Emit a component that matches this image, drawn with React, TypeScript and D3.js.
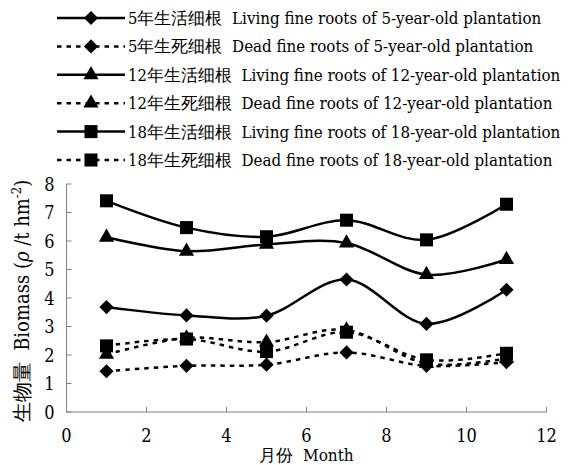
import * as d3 from "d3";

const months = [1, 3, 5, 7, 9, 11];
const live5 = [3.68, 3.39, 3.38, 4.65, 3.09, 4.29];
const dead5 = [1.43, 1.62, 1.66, 2.09, 1.62, 1.75];
const live12 = [6.13, 5.64, 5.88, 5.93, 4.82, 5.35];
const dead12 = [2.02, 2.6, 2.45, 2.88, 1.7, 1.88];
const live18 = [7.41, 6.47, 6.15, 6.73, 6.04, 7.29];
const dead18 = [2.32, 2.56, 2.12, 2.8, 1.83, 2.06];

const xTicks = [0, 2, 4, 6, 8, 10, 12];
const yTicks = [0, 1, 2, 3, 4, 5, 6, 7, 8];

const seriesList = [
  { cn: "5年生活细根", en: "Living fine roots of 5-year-old plantation", values: live5, marker: "diamond", dashed: false },
  { cn: "5年生死细根", en: "Dead fine roots of 5-year-old plantation", values: dead5, marker: "diamond", dashed: true },
  { cn: "12年生活细根", en: "Living fine roots of 12-year-old plantation", values: live12, marker: "triangle", dashed: false },
  { cn: "12年生死细根", en: "Dead fine roots of 12-year-old plantation", values: dead12, marker: "triangle", dashed: true },
  { cn: "18年生活细根", en: "Living fine roots of 18-year-old plantation", values: live18, marker: "square", dashed: false },
  { cn: "18年生死细根", en: "Dead fine roots of 18-year-old plantation", values: dead18, marker: "square", dashed: true },
];

const font = "'DejaVu Serif', serif";

function markerPath(kind: string) {
  if (kind === "diamond") return d3.symbol(d3.symbolSquare, 100)()!;
  if (kind === "triangle") return d3.symbol(d3.symbolTriangle, 100)()!;
  return d3.symbol(d3.symbolSquare, 170)()!;
}

function Marker({ kind, x, y }: { kind: string; x: number; y: number }) {
  const rot = kind === "diamond" ? " rotate(45)" : "";
  return <path d={markerPath(kind)} transform={`translate(${x},${y})${rot}`} fill="#000" />;
}

export default function App() {
  const width = 580;
  const height = 465;
  const x = d3.scaleLinear().domain([0, 12]).range([66.5, 546.5]);
  const y = d3.scaleLinear().domain([0, 8]).range([412, 184]);
  const line = d3
    .line<number>()
    .x((_, i) => x(months[i]))
    .y((v) => y(v))
    .curve(d3.curveCardinal.tension(0));

  const legendY = d3.scalePoint<number>().domain(d3.range(6)).range([18, 160]);

  return (
    <svg
      width={width}
      height={height}
      style={{ position: "absolute", left: 0, top: 0, background: "#fff", fontFamily: font, fontStretch: "condensed" }}
    >
      {/* axes */}
      <line x1={x(0)} x2={x(12)} y1={y(0)} y2={y(0)} stroke="#808080" strokeWidth={1} />
      <line x1={x(0)} x2={x(0)} y1={y(0)} y2={y(8)} stroke="#808080" strokeWidth={1} />
      {xTicks.map((t) => (
        <g key={`x${t}`}>
          <line x1={x(t)} x2={x(t)} y1={y(0)} y2={y(0) - 5} stroke="#808080" />
          <text x={x(t)} y={y(0) + 30} textAnchor="middle" fontSize={18}>{t}</text>
        </g>
      ))}
      {yTicks.map((t) => (
        <g key={`y${t}`}>
          <line x1={x(0)} x2={x(0) + 5} y1={y(t)} y2={y(t)} stroke="#808080" />
          <text x={x(0) - 12} y={y(t) + 6.5} textAnchor="end" fontSize={18}>{t}</text>
        </g>
      ))}
      <text x={x(6)} y={461} textAnchor="middle" fontSize={17} xmlSpace="preserve">月份  Month</text>
      <text transform={`translate(29,301) rotate(-90)`} textAnchor="middle" fontSize={20} xmlSpace="preserve">
        生物量  Biomass (<tspan fontStyle="italic">ρ</tspan> /t hm<tspan fontSize={13} dy={-8}>-2</tspan><tspan dy={8}>)</tspan>
      </text>

      {/* series */}
      {seriesList.map((s) => (
        <g key={s.cn}>
          <path
            d={line(s.values)!}
            fill="none"
            stroke="#000"
            strokeWidth={2.5}
            strokeDasharray={s.dashed ? "4.5,5" : undefined}
          />
          {s.values.map((v, i) => (
            <Marker key={i} kind={s.marker} x={x(months[i])} y={y(v)} />
          ))}
        </g>
      ))}

      {/* legend */}
      {seriesList.map((s, i) => {
        const ly = legendY(i)!;
        return (
          <g key={`leg${i}`}>
            <line x1={57} x2={125} y1={ly} y2={ly} stroke="#000" strokeWidth={2.5} strokeDasharray={s.dashed ? "4.5,5" : undefined} />
            <Marker kind={s.marker} x={91} y={ly} />
            <text x={128} y={ly + 6} fontSize={16.8} xmlSpace="preserve">
              <tspan fontSize={16.5}>{s.cn}</tspan>
              <tspan>{"  " + s.en}</tspan>
            </text>
          </g>
        );
      })}
    </svg>
  );
}
